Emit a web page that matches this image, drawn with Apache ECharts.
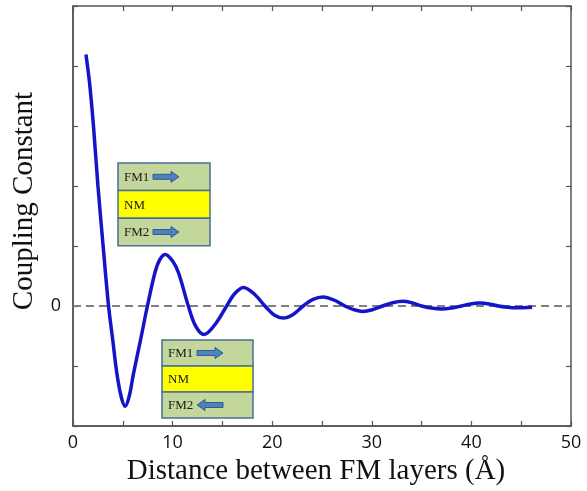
<!DOCTYPE html>
<html>
<head>
<meta charset="utf-8">
<script src="https://cdn.jsdelivr.net/npm/echarts@6/dist/echarts.min.js"></script>
<style>
  html, body { margin: 0; padding: 0; background: #fff; }
  #chart { width: 587px; height: 491px; }
</style>
</head>
<body>
<div id="chart"></div>
<script>
// values (Å, arbitrary units)
const distance = [1.3, 1.66, 2.06, 2.5, 3.05, 3.57, 4.0, 4.41, 4.85, 5.24, 5.65, 6.07, 6.8, 7.47, 8.25, 8.7, 9.25, 10.0, 10.6, 11.58, 12.3, 13.16, 14.3, 15.43, 16.2, 17.1, 18.2, 19.27, 20.2, 21.1, 22.1, 23.1, 24.1, 25.1, 26.2, 27.3, 28.2, 29.1, 30.1, 31.1, 32.1, 33.1, 34.0, 35.0, 36.0, 37.0, 38.0, 39.0, 39.9, 40.8, 41.8, 42.7, 43.6, 44.5, 46.1]
const coupling = [4.19, 3.72, 2.99, 2.01, 0.95, 0, -0.58, -1.13, -1.52, -1.67, -1.5, -1.13, -0.55, 0, 0.57, 0.77, 0.86, 0.75, 0.55, 0, -0.33, -0.475, -0.3, 0, 0.2, 0.31, 0.2, 0, -0.15, -0.2, -0.14, 0, 0.11, 0.15, 0.1, 0, -0.06, -0.09, -0.06, 0, 0.055, 0.08, 0.055, 0, -0.035, -0.05, -0.035, 0, 0.035, 0.05, 0.035, 0, -0.02, -0.03, -0.02]
const xTicks = [0, 10, 20, 30, 40, 50]
const yLabelled = [0]

const chart = echarts.init(document.getElementById('chart'))

const axisColor = '#555'
const serif = '"Liberation Serif", "DejaVu Serif", serif'
const green = '#c3d69b'
const yellow = '#ffff00'
const edge = '#4a6f95'
const arrowFill = '#4f81bd'
const arrowEdge = '#2f5c8f'

// three-layer inset: top-left corner, width, row height, direction of the FM2 arrow
function stack(x, y, w, rowH, fm2Dir) {
  const rows = [
    { label: 'FM1', fill: green, arrow: 'right' },
    { label: 'NM', fill: yellow, arrow: null },
    { label: 'FM2', fill: green, arrow: fm2Dir },
  ]
  const els = []
  rows.forEach((r, i) => {
    const top = y + i * rowH
    els.push({
      type: 'rect',
      shape: { x: x, y: top, width: w, height: rowH },
      style: { fill: r.fill, stroke: edge, lineWidth: 1.5 },
    })
    els.push({
      type: 'text',
      x: x + 6,
      y: top + rowH / 2 + 1,
      style: { text: r.label, font: '13px ' + serif, fill: '#1a1a1a', verticalAlign: 'middle' },
    })
    if (r.arrow) {
      const ax = x + 35
      const ay = top + rowH / 2
      const L = 26
      const pts = r.arrow === 'right'
        ? [[ax, ay - 2.5], [ax + L - 8, ay - 2.5], [ax + L - 8, ay - 5.5], [ax + L, ay], [ax + L - 8, ay + 5.5], [ax + L - 8, ay + 2.5], [ax, ay + 2.5]]
        : [[ax + L, ay - 2.5], [ax + 8, ay - 2.5], [ax + 8, ay - 5.5], [ax, ay], [ax + 8, ay + 5.5], [ax + 8, ay + 2.5], [ax + L, ay + 2.5]]
      els.push({
        type: 'polygon',
        shape: { points: pts },
        style: { fill: arrowFill, stroke: arrowEdge, lineWidth: 1 },
      })
    }
  })
  return els
}

const tick = { show: true, inside: true, length: 5, lineStyle: { color: axisColor, width: 1.2 } }

const option = {
  animation: false,
  grid: { left: 73, right: 16, top: 6, bottom: 65, show: true, borderColor: axisColor, borderWidth: 1.5, backgroundColor: 'transparent' },
  xAxis: [
    {
      type: 'value',
      min: 0,
      max: 50,
      interval: 5,
      name: 'Distance between FM layers (Å)',
      nameLocation: 'middle',
      nameGap: 31,
      nameTextStyle: { fontFamily: serif, fontSize: 29, color: '#111', padding: [0, 12, 0, 0] },
      axisLine: { onZero: false, lineStyle: { color: axisColor, width: 1.5 } },
      axisTick: tick,
      axisLabel: {
        fontFamily: '"Open Sans", sans-serif',
        fontSize: 18,
        color: '#111',
        margin: 8,
        formatter: (v) => (xTicks.includes(v) ? String(v) : ''),
      },
      splitLine: { show: false },
    },
    {
      type: 'value',
      position: 'top',
      min: 0,
      max: 50,
      interval: 5,
      axisLine: { show: false, onZero: false },
      axisTick: tick,
      axisLabel: { show: false },
      splitLine: { show: false },
    },
  ],
  yAxis: [
    {
      type: 'value',
      min: -2,
      max: 5,
      interval: 1,
      name: 'Coupling Constant',
      nameLocation: 'middle',
      nameGap: 34,
      nameTextStyle: { fontFamily: serif, fontSize: 29, color: '#111', padding: [0, 0, 0, 30] },
      axisLine: { show: true, onZero: false, lineStyle: { color: axisColor, width: 1.5 } },
      axisTick: tick,
      axisLabel: {
        fontFamily: '"Open Sans", sans-serif',
        fontSize: 18,
        color: '#111',
        margin: 12,
        formatter: (v) => (yLabelled.includes(v) ? String(v) : ''),
      },
      splitLine: { show: false },
    },
    {
      type: 'value',
      position: 'right',
      min: -2,
      max: 5,
      interval: 1,
      axisLine: { show: false, onZero: false },
      axisTick: tick,
      axisLabel: { show: false },
      splitLine: { show: false },
    },
  ],
  series: [
    {
      type: 'line',
      data: distance.map((d, i) => [d, coupling[i]]),
      smooth: 0.35,
      showSymbol: false,
      lineStyle: { color: '#1414c8', width: 3.5 },
      z: 3,
      markLine: {
        silent: true,
        symbol: 'none',
        label: { show: false },
        lineStyle: { color: '#808080', type: [8, 5], width: 2 },
        data: [{ yAxis: 0 }],
        z: 2,
      },
    },
  ],
  graphic: [...stack(118, 163, 92, 27.6, 'right'), ...stack(162, 340, 91, 26, 'left')],
}

chart.setOption(option)
</script>
</body>
</html>
